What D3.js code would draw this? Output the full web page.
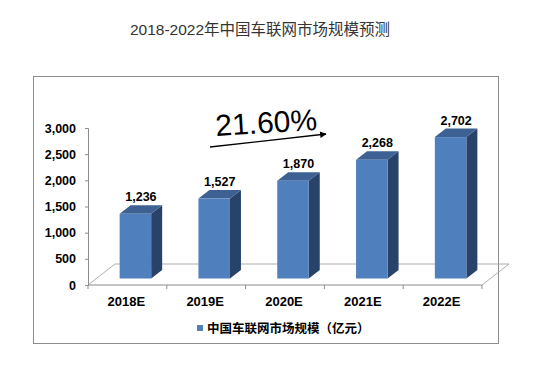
<!DOCTYPE html>
<html>
<head>
<meta charset="utf-8">
<script src="https://d3js.org/d3.v7.min.js"></script>
<style>
  body { margin: 0; padding: 0; background: #fff; }
  text { font-family: "Liberation Sans", Arial, "Noto Sans CJK SC", sans-serif; }
</style>
</head>
<body>
<div id="chart"></div>
<script>
// data
var years = ["2018E", "2019E", "2020E", "2021E", "2022E"];
var values = [1236, 1527, 1870, 2268, 2702];
var yTicks = [0, 500, 1000, 1500, 2000, 2500, 3000];
var title = "2018-2022年中国车联网市场规模预测";
var seriesName = "中国车联网市场规模（亿元）";
var growth = "21.60%";

var W = 543, H = 374;
var svg = d3.select("#chart").append("svg")
    .attr("width", W).attr("height", H);

// title
svg.append("text")
    .attr("x", 260).attr("y", 35)
    .attr("text-anchor", "middle")
    .style("font-size", "15.5px")
    .style("fill", "#333")
    .text(title);

// chart frame
svg.append("rect")
    .attr("x", 33.5).attr("y", 76.5)
    .attr("width", 465).attr("height", 267)
    .attr("fill", "none").attr("stroke", "#8c8c8c");

// 3d geometry
var left = 88, right = 482, base = 285;
var depth = { x: 27, y: -21 };          // floor depth vector
var barOff = { x: 8, y: -6.5 };         // front face of bars inside the floor
var barDepth = { x: 11, y: -8.5 };      // thickness of each bar

var x = d3.scaleBand().domain(years).range([left, right])
    .paddingInner(0.6).paddingOuter(0.3);
var y = d3.scaleLinear().domain([0, 3000]).range([base, base - 157]);

// floor
var floor = [[left, base], [right, base], [right + depth.x, base + depth.y], [left + depth.x, base + depth.y]];
svg.append("path")
    .attr("d", "M" + floor[0] + "L" + floor[3] + "L" + floor[2] + "L" + floor[1])
    .attr("fill", "none").attr("stroke", "#9a9a9a").attr("stroke-width", 0.8);

// y axis
var yAxis = svg.append("g")
    .attr("transform", "translate(" + left + ",0)")
    .call(d3.axisLeft(y).tickValues(yTicks).tickSize(3).tickPadding(9).tickFormat(d3.format(",")));
yAxis.select(".domain").attr("stroke", "#8c8c8c");
yAxis.selectAll(".tick line").attr("stroke", "#8c8c8c");
yAxis.selectAll("text")
    .style("font-size", "12.5px").style("font-weight", "bold").attr("fill", "#000");

// x axis with ticks between categories
svg.append("line")
    .attr("x1", left).attr("x2", right).attr("y1", base).attr("y2", base)
    .attr("stroke", "#8c8c8c");
var step = x.step();
svg.selectAll(".xtick").data(d3.range(years.length + 1)).enter().append("line")
    .attr("x1", function (i) { return left + i * step; })
    .attr("x2", function (i) { return left + i * step; })
    .attr("y1", base).attr("y2", base + 4)
    .attr("stroke", "#8c8c8c");
svg.selectAll(".xlab").data(years).enter().append("text")
    .attr("x", function (d) { return x(d) + x.bandwidth() / 2 - 1; })
    .attr("y", base + 21)
    .attr("text-anchor", "middle")
    .style("font-size", "13px").style("font-weight", "bold")
    .text(function (d) { return d; });

// bars
var bw = x.bandwidth();
var bars = svg.selectAll(".bar").data(years.map(function (d, i) { return { year: d, v: values[i] }; }))
    .enter().append("g");

bars.each(function (d) {
    var g = d3.select(this);
    var x0 = x(d.year) + barOff.x, x1 = x0 + bw;
    var yb = y(0) + barOff.y, yt = y(d.v) + barOff.y;
    // side
    g.append("path")
        .attr("d", "M" + [x1, yb] + "L" + [x1 + barDepth.x, yb + barDepth.y] + "L" +
            [x1 + barDepth.x, yt + barDepth.y] + "L" + [x1, yt] + "Z")
        .attr("fill", "#29426a");
    // top
    g.append("path")
        .attr("d", "M" + [x0, yt] + "L" + [x1, yt] + "L" + [x1 + barDepth.x, yt + barDepth.y] + "L" +
            [x0 + barDepth.x, yt + barDepth.y] + "Z")
        .attr("fill", "#3c6192");
    // front
    g.append("rect")
        .attr("x", x0).attr("y", yt)
        .attr("width", bw).attr("height", yb - yt)
        .attr("fill", "#4f80bd");
    // value label
    g.append("text")
        .attr("x", x0 + (bw + barDepth.x) / 2)
        .attr("y", yt + barDepth.y - 4)
        .attr("text-anchor", "middle")
        .style("font-size", "12.5px").style("font-weight", "bold")
        .text(d3.format(",")(d.v));
});

// growth annotation
svg.append("defs").append("marker")
    .attr("id", "arrow").attr("viewBox", "0 0 10 10")
    .attr("refX", 9).attr("refY", 5)
    .attr("markerWidth", 7).attr("markerHeight", 5)
    .attr("orient", "auto")
    .append("path").attr("d", "M0,0L10,5L0,10Z").attr("fill", "#000");
svg.append("line")
    .attr("x1", 210).attr("y1", 147).attr("x2", 326).attr("y2", 134)
    .attr("stroke", "#000").attr("stroke-width", 1.3)
    .attr("marker-end", "url(#arrow)");
svg.append("text")
    .attr("transform", "translate(216,136) rotate(-3.5)")
    .style("font-size", "30px")
    .text(growth);

// legend
svg.append("rect")
    .attr("x", 197).attr("y", 325).attr("width", 6).attr("height", 6)
    .attr("fill", "#4f80bd");
svg.append("text")
    .attr("x", 207).attr("y", 332.5)
    .style("font-family", "'Noto Sans CJK SC', sans-serif")
    .style("font-size", "12.5px").style("font-weight", "bold")
    .text(seriesName);
</script>
</body>
</html>
